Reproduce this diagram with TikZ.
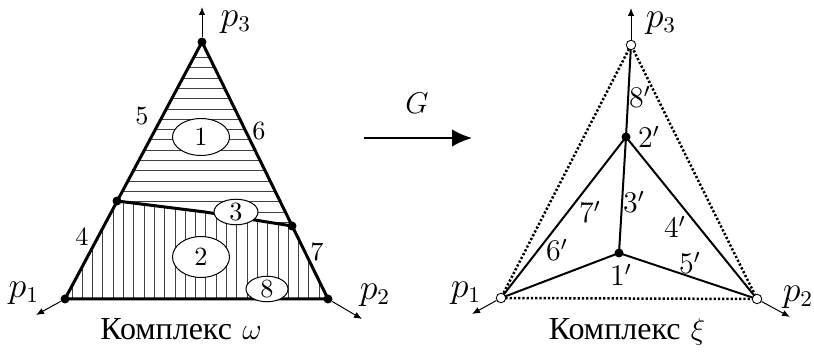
\documentclass[tikz,border=0pt]{standalone}
\usepackage{fontspec}
\newfontfamily\cyrfont{Liberation Serif}
\usetikzlibrary{arrows.meta,shapes.geometric}
\tikzset{
  edge/.style={line width=1.2pt, line join=round},
  hatch/.style={line width=0.35pt, black!75},
  blob/.style={ellipse, draw, line width=0.4pt, fill=white, inner sep=0pt, font=\fontsize{10.5}{12}\selectfont},
  bigdot/.style={circle, fill=black, inner sep=0pt, minimum size=3.6pt},
  opendot/.style={circle, draw, line width=0.35pt, fill=white, inner sep=0pt, minimum size=3.8pt},
  thinarrow/.style={line width=0.4pt, -{Latex[length=3.2pt,width=2.6pt]}},
  bigarrow/.style={line width=0.9pt, -{Latex[length=8pt,width=7pt]}},
  graphedge/.style={line width=0.8pt},
  dotedge/.style={line width=1pt, dash pattern=on 0.9pt off 0.8pt},
  lbl/.style={inner sep=0pt, font=\fontsize{10.5}{12}\selectfont},
  plbl/.style={inner sep=0pt, font=\fontsize{13.5}{15}\selectfont},
  qlbl/.style={inner sep=0pt, font=\fontsize{12}{14}\selectfont},
  captext/.style={inner sep=0pt, anchor=base, font=\fontsize{12.8}{14}\selectfont}
}
\begin{document}
\begin{tikzpicture}[x=0.4pt, y=-0.4pt]
\useasboundingbox (0,0) rectangle (814,352);
% ---------- left complex ----------
\coordinate (p3) at (202,42);
\coordinate (p1) at (65,299);
\coordinate (p2) at (328,299);
\coordinate (L) at (117,201);
\coordinate (B) at (205,212);
\coordinate (R) at (292,226);
\begin{scope}
  \clip (p3) -- (L) -- (B) -- (R) -- cycle;
  \foreach \i in {0,...,17} \draw[hatch] (50,{57.3+10.33*\i}) -- (350,{57.3+10.33*\i});
\end{scope}
\begin{scope}
  \clip (L) -- (B) -- (R) -- (p2) -- (p1) -- cycle;
  \foreach \i in {0,...,27} \draw[hatch] ({72+10.3*\i},150) -- ({72+10.3*\i},310);
\end{scope}
\draw[edge] (p1) -- (p2) -- (p3) -- cycle;
\draw[edge] (L) -- (B) -- (R);
\node[blob, minimum width=22.8pt, minimum height=14.8pt] (r1) at (201,137) {1};
\node[blob, minimum width=22.8pt, minimum height=16.4pt] (r2) at (201,257) {2};
\node[blob, minimum width=17.6pt, minimum height=8pt] (r3) at (236,212) {3};
\node[blob, minimum width=16.8pt, minimum height=9.6pt] (r8) at (267,289) {8};
\node[bigdot] (d3) at (p3) {};
\node[bigdot] (d1) at (p1) {};
\node[bigdot] (d2) at (p2) {};
\node[bigdot] (dL) at (L) {};
\node[bigdot] (dR) at (R) {};
\coordinate (a3) at (202,7);
\coordinate (a1) at (36,315);
\coordinate (a2) at (362,319);
\draw[thinarrow] (d3) -- (a3);
\draw[thinarrow] (d1) -- (a1);
\draw[thinarrow] (d2) -- (a2);
\node[plbl] (lp3) at (236,22) {$p_3$};
\node[plbl] (lp1) at (24,293) {$p_1$};
\node[plbl] (lp2) at (375,295) {$p_2$};
\node[lbl] (l5) at (142,116) {5};
\node[lbl] (l6) at (259,131) {6};
\node[lbl] (l4) at (82,237) {4};
\node[lbl] (l7) at (317,252) {7};
\node[captext] (cw) at (181,340) {{\cyrfont Комплекс} $\omega$};
% ---------- map G ----------
\coordinate (g1) at (364,138);
\coordinate (g2) at (472,138);
\draw[bigarrow] (g1) -- (g2);
\node[lbl, font=\fontsize{11.5}{13}\selectfont] (gl) at (417,103) {$G$};
% ---------- right complex ----------
\coordinate (q3) at (631,45);
\coordinate (q1) at (501,298);
\coordinate (q2) at (757,299);
\coordinate (n2) at (626,137);
\coordinate (n1) at (619,253);
\draw[dotedge] (q1) -- (q2) -- (q3) -- cycle;
\draw[graphedge] (q3) -- (n2);
\draw[graphedge] (n2) -- (n1);
\draw[graphedge] (n2) -- (q1);
\draw[graphedge] (n2) -- (q2);
\draw[graphedge] (n1) -- (q1);
\draw[graphedge] (n1) -- (q2);
\coordinate (b3) at (631,8);
\coordinate (b1) at (472,314);
\coordinate (b2) at (790,317);
\node[opendot] (o3) at (q3) {};
\node[opendot] (o1) at (q1) {};
\node[opendot] (o2) at (q2) {};
\node[bigdot] (m2) at (n2) {};
\node[bigdot] (m1) at (n1) {};
\draw[thinarrow] (o3) -- (b3);
\draw[thinarrow] (o1) -- (b1);
\draw[thinarrow] (o2) -- (b2);
\node[plbl] (lq3) at (661,23) {$p_3$};
\node[plbl] (lq1) at (466,293) {$p_1$};
\node[plbl] (lq2) at (798,297) {$p_2$};
\node[qlbl] (k8) at (640,97) {$8'$};
\node[qlbl] (k2) at (649,137) {$2'$};
\node[qlbl] (k3) at (634,202) {$3'$};
\node[qlbl] (k7) at (590,212) {$7'$};
\node[qlbl] (k4) at (675,227) {$4'$};
\node[qlbl] (k6) at (557,250) {$6'$};
\node[qlbl] (k5) at (690,263) {$5'$};
\node[qlbl] (k1) at (621,275) {$1'$};
\node[captext] (cx) at (627,340) {{\cyrfont Комплекс} $\xi$};
\end{tikzpicture}
\end{document}
